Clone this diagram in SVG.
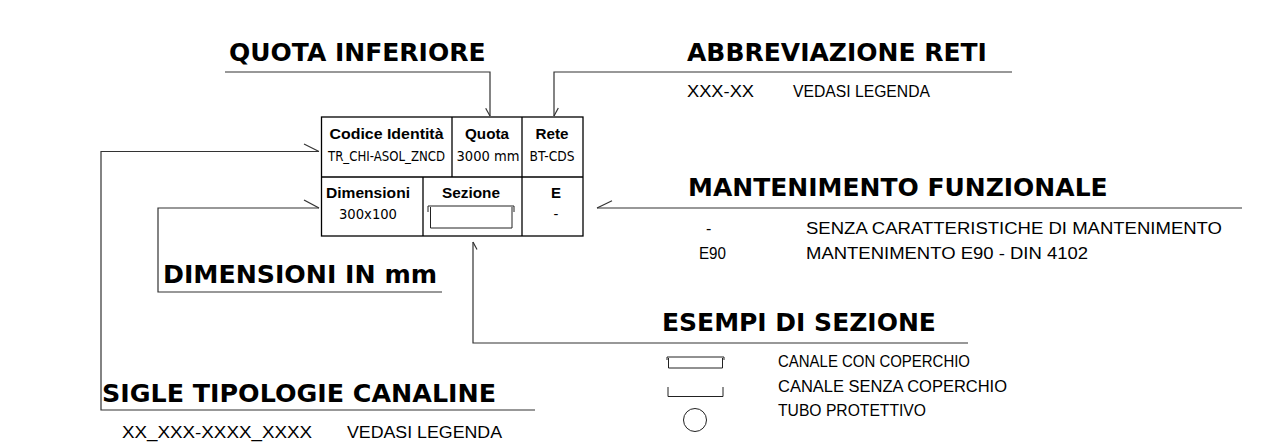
<svg xmlns="http://www.w3.org/2000/svg" width="1268" height="446" viewBox="0 0 1268 446">
<style>
.h{font-family:"DejaVu Sans",Verdana,sans-serif;font-weight:bold;font-size:25px;fill:#000}
.t{font-family:"Liberation Sans",Arial,sans-serif;font-size:16px;fill:#000}
.b{font-family:"Liberation Sans",Arial,sans-serif;font-weight:bold;font-size:15px;fill:#000}
.c{font-family:"DejaVu Sans",sans-serif;font-size:13.5px;fill:#000}
.ln{fill:none;stroke:#333;stroke-width:1.2}
.tb{fill:none;stroke:#000;stroke-width:1.3}
.sy{fill:none;stroke:#222;stroke-width:1}
</style>
<rect width="1268" height="446" fill="#fff"/>
<g id="connectors">
<polyline class="ln" points="225,72 490,72 490,116"/>
<line class="ln" x1="485.7" y1="108.3" x2="490" y2="116"/>
<polyline class="ln" points="1012,72 554,72 554,116"/>
<line class="ln" x1="558.3" y1="108" x2="554" y2="116"/>
<polyline class="ln" points="1242,208 597,208"/>
<line class="ln" x1="597" y1="208" x2="612" y2="200.7"/>
<polyline class="ln" points="535,410 101,410 101,151.5 319,151.5"/>
<line class="ln" x1="304" y1="144" x2="319" y2="151.5"/>
<polyline class="ln" points="442,292 158,292 158,208 319,208"/>
<line class="ln" x1="304" y1="200" x2="319" y2="208"/>
<polyline class="ln" points="968,343 473,343 473,242"/>
<line class="ln" x1="473" y1="242" x2="477" y2="249.5"/>
</g>
<g id="table">
<rect class="tb" x="321.5" y="117" width="261.5" height="119"/>
<line class="tb" x1="321.5" y1="177" x2="583" y2="177"/>
<line class="tb" x1="452" y1="117" x2="452" y2="177"/>
<line class="tb" x1="522" y1="117" x2="522" y2="236"/>
<line class="tb" x1="423" y1="177" x2="423" y2="236"/>
<text class="b" x="386.5" y="139" text-anchor="middle" textLength="114" lengthAdjust="spacingAndGlyphs">Codice Identità</text>
<text class="c" x="386.5" y="161" text-anchor="middle" textLength="117" lengthAdjust="spacingAndGlyphs">TR_CHI-ASOL_ZNCD</text>
<text class="b" x="487" y="139" text-anchor="middle" textLength="44" lengthAdjust="spacingAndGlyphs">Quota</text>
<text class="c" x="488" y="161" text-anchor="middle" textLength="63" lengthAdjust="spacingAndGlyphs">3000 mm</text>
<text class="b" x="552" y="139" text-anchor="middle" textLength="33" lengthAdjust="spacingAndGlyphs">Rete</text>
<text class="c" x="552" y="161" text-anchor="middle" textLength="45" lengthAdjust="spacingAndGlyphs">BT-CDS</text>
<text class="b" x="368" y="198" text-anchor="middle" textLength="84" lengthAdjust="spacingAndGlyphs">Dimensioni</text>
<text class="c" x="368" y="219" text-anchor="middle" textLength="58" lengthAdjust="spacingAndGlyphs">300x100</text>
<text class="b" x="471" y="198" text-anchor="middle" textLength="58" lengthAdjust="spacingAndGlyphs">Sezione</text>
<text class="b" x="556" y="198" text-anchor="middle">E</text>
<text class="c" x="556" y="219" text-anchor="middle">-</text>
<path class="sy" d="M428,206 H514 M428,206 V212 M514,206 V212 M430.5,207 V228 H512 V207"/>
</g>
<g id="quota-inferiore">
<text class="h" x="229" y="61">QUOTA INFERIORE</text>
</g>
<g id="abbreviazione-reti">
<text class="h" x="687" y="61">ABBREVIAZIONE RETI</text>
<text class="t" x="687" y="97" textLength="67" lengthAdjust="spacingAndGlyphs">XXX-XX</text>
<text class="t" x="793" y="97" textLength="137" lengthAdjust="spacingAndGlyphs">VEDASI LEGENDA</text>
</g>
<g id="mantenimento-funzionale">
<text class="h" x="688" y="196">MANTENIMENTO FUNZIONALE</text>
<text class="t" x="706" y="234">-</text>
<text class="t" x="806" y="234" textLength="416" lengthAdjust="spacingAndGlyphs">SENZA CARATTERISTICHE DI MANTENIMENTO</text>
<text class="t" x="699" y="259" textLength="27" lengthAdjust="spacingAndGlyphs">E90</text>
<text class="t" x="806" y="259" textLength="282" lengthAdjust="spacingAndGlyphs">MANTENIMENTO E90 - DIN 4102</text>
</g>
<g id="dimensioni">
<text class="h" x="163" y="283" textLength="274" lengthAdjust="spacingAndGlyphs">DIMENSIONI IN mm</text>
</g>
<g id="esempi-sezione">
<text class="h" x="662" y="331">ESEMPI DI SEZIONE</text>
<path class="sy" d="M667,357 H724 M667,357 V360 M724,357 V360 M668.5,358 V368 H722.5 V358"/>
<path class="sy" d="M668,387 V396.5 H723 V387"/>
<circle class="sy" cx="695" cy="420" r="11.5"/>
<text class="t" x="778" y="367" textLength="192" lengthAdjust="spacingAndGlyphs">CANALE CON COPERCHIO</text>
<text class="t" x="778" y="392" textLength="229" lengthAdjust="spacingAndGlyphs">CANALE SENZA COPERCHIO</text>
<text class="t" x="778" y="416" textLength="148" lengthAdjust="spacingAndGlyphs">TUBO PROTETTIVO</text>
</g>
<g id="sigle-tipologie">
<text class="h" x="102" y="402" textLength="394" lengthAdjust="spacingAndGlyphs">SIGLE TIPOLOGIE CANALINE</text>
<text class="t" x="122" y="438" textLength="190" lengthAdjust="spacingAndGlyphs">XX_XXX-XXXX_XXXX</text>
<text class="t" x="347" y="438" textLength="155" lengthAdjust="spacingAndGlyphs">VEDASI LEGENDA</text>
</g>
</svg>
